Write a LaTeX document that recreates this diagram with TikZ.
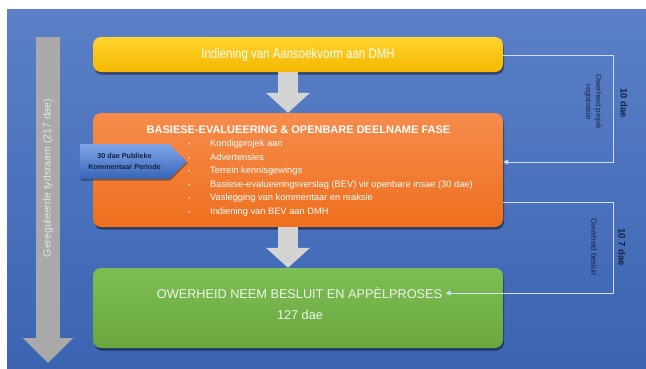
\documentclass[tikz,border=0pt]{standalone}
\usepackage{fontspec}
\setmainfont{Liberation Sans}
\newfontfamily\narrowfont[FakeStretch=0.82]{Liberation Sans}
\usetikzlibrary{arrows.meta,shapes.symbols,shadows}

\definecolor{bgtop}{HTML}{5B80C7}
\definecolor{bgbot}{HTML}{3A64B2}
\definecolor{yeltop}{HTML}{FFD42E}
\definecolor{yelbot}{HTML}{F4B700}
\definecolor{orgtop}{HTML}{F68C4C}
\definecolor{orgbot}{HTML}{EE6F1E}
\definecolor{grntop}{HTML}{7DBE55}
\definecolor{grnbot}{HTML}{68A83E}
\definecolor{arrowgray}{HTML}{D4D4D4}
\definecolor{sidegray}{HTML}{A9A9A9}
\definecolor{sidetext}{HTML}{E4E4E4}
\definecolor{navytext}{HTML}{17233F}
\definecolor{linecol}{HTML}{D0DCF2}
\definecolor{callouttop}{HTML}{80A8E8}
\definecolor{calloutbot}{HTML}{3563B8}
\definecolor{bulletcol}{HTML}{FBD3B4}
\definecolor{greentext}{HTML}{F1F5EC}

\newcommand\bul{\makebox[22pt][l]{\fontsize{7}{7}\selectfont\textcolor{bulletcol}{•}}}

\tikzset{
  phase/.style={rounded corners=8pt, minimum width=410pt, inner sep=0pt,
    drop shadow={shadow xshift=1pt, shadow yshift=-2.5pt, opacity=0.45, fill=black}},
  blockarrow/.style={draw=arrowgray, line width=20pt, -{Triangle[width=43pt,length=20pt]}},
  spanarrow/.style={draw=sidegray, line width=24pt, -{Triangle[width=49pt,length=25pt]}},
  bracket/.style={draw=linecol, line width=0.8pt, -{Triangle[width=5pt,length=5pt]}},
  daylabel/.style={rotate=-90, font=\bfseries\fontsize{9.5}{11}\selectfont, text=navytext},
  notelabel/.style={rotate=-90, align=center, font=\fontsize{7.6}{10}\selectfont, text=navytext}
}

\begin{document}
\begin{tikzpicture}[x=1pt,y=-1pt]
\useasboundingbox (0,0) rectangle (646,368);
\fill[white] (0,0) rectangle (646,368);
\shade[top color=bgtop, bottom color=bgbot] (7,9) rectangle (646,368);

% overall time span arrow on the left
\coordinate (spantop) at (48,37);
\coordinate (spanend) at (48,363);
\draw[spanarrow] (spantop) -- (spanend);
\node[rotate=90, text=sidetext, font=\fontsize{10.5}{12}\selectfont] (span) at (48,178)
  {Gereguleerde tydsraam (217 dae)};

% the three phases
\node[phase, top color=yeltop, bottom color=yelbot, minimum height=35pt,
      text=white, font=\narrowfont\fontsize{14}{16}\selectfont] (yellow) at (298,54.5)
  {Indiening van Aansoekvorm aan DMH};
\node[phase, top color=orgtop, bottom color=orgbot, minimum height=114pt] (orange) at (298,170) {};
\node[phase, top color=grntop, bottom color=grnbot, minimum height=80pt] (green) at (298,308) {};

\node[text=white, font=\bfseries\fontsize{11}{13}\selectfont] (otitle) at (298.5,129.5)
  {BASIESE-EVALUEERING \& OPENBARE DEELNAME FASE};
\node[anchor=north west, align=left, inner sep=0pt, text=white,
      font=\fontsize{9.3}{13.6}\selectfont] (olist) at (188,139.5)
  {\bul Kondigprojek aan\\
   \bul Advertensies\\
   \bul Terrein kennisgewings\\
   \bul Basiese-evalueeringsverslag (BEV) vir openbare insae (30 dae)\\
   \bul Vaslegging van kommentaar en reaksie\\
   \bul Indiening van BEV aan DMH};

\node[text=greentext, font=\fontsize{12.7}{14}\selectfont] (gtitle) at (299.5,293)
  {OWERHEID NEEM BESLUIT EN APPÈLPROSES};
\node[text=greentext, font=\fontsize{12.7}{14}\selectfont] (gdays) at (300,315) {127 dae};

% flow arrows between the phases
\coordinate (ax) at (288,0);
\draw[blockarrow] (yellow.south -| ax) -- (orange.north -| ax);
\draw[blockarrow] (orange.south -| ax) -- (green.north -| ax);

% comment period callout
\node[signal, signal to=east, signal pointer angle=90, minimum width=107pt, minimum height=35pt,
      inner sep=0pt, top color=callouttop, bottom color=calloutbot, align=center,
      font=\bfseries\fontsize{7.2}{11}\selectfont, text=navytext,
      drop shadow={shadow xshift=1pt, shadow yshift=-1.5pt, opacity=0.35, fill=black}]
  (callout) at (124.5,161.5) {30 dae Publieke\\Kommentaar Periode};

% government duration brackets
\coordinate (r1a) at (613,55);
\coordinate (r1b) at (613,162);
\draw[bracket] (yellow.east |- r1a) -- (r1a) -- (r1b) -- (orange.east |- r1b);
\coordinate (r2a) at (613,202);
\coordinate (r2b) at (613,293);
\draw[bracket] (orange.east |- r2a) -- (r2a) -- (r2b) -- (gtitle.east |- r2b);

\node[daylabel] (d1) at (624,103) {10 dae};
\node[notelabel] (d1note) at (593,102) {Owerheid projek\\registrasie};
\node[daylabel] (d2) at (622,247) {10 7 dae};
\node[notelabel] (d2note) at (594,247) {Owerheid besluit};
\end{tikzpicture}
\end{document}
